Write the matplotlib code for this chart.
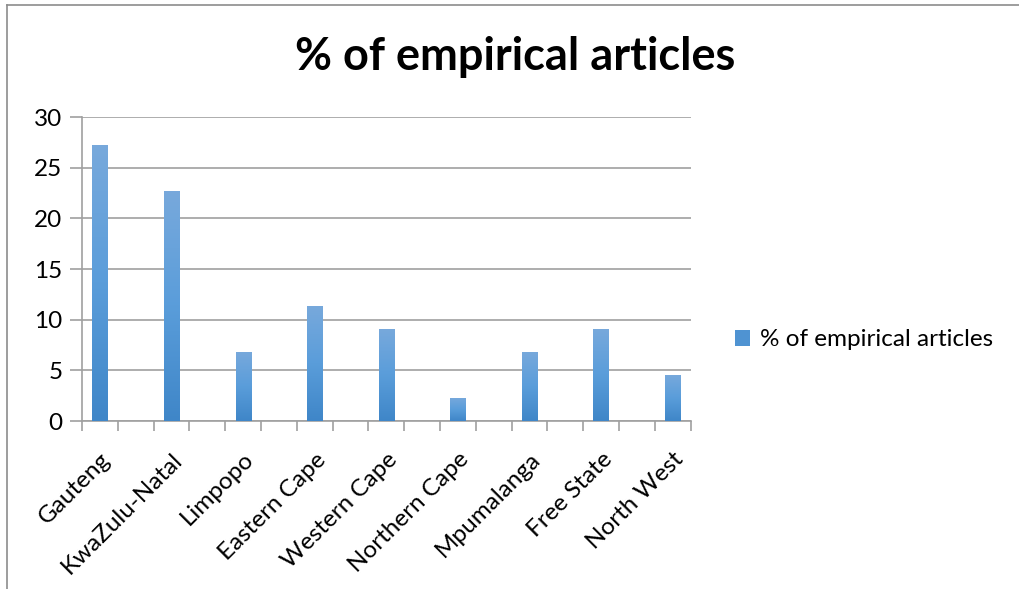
import matplotlib
matplotlib.use('Agg')
import matplotlib.pyplot as plt
import numpy as np
from matplotlib.colors import LinearSegmentedColormap
from matplotlib.patches import Patch
from matplotlib.lines import Line2D

provinces = ["Gauteng", "KwaZulu-Natal", "Limpopo", "Eastern Cape", "Western Cape",
             "Northern Cape", "Mpumalanga", "Free State", "North West"]
percent = [27.27, 22.73, 6.82, 11.36, 9.09, 2.27, 6.82, 9.09, 4.55]
yticks = [0, 5, 10, 15, 20, 25, 30]
series_name = "% of empirical articles"
title = "% of empirical articles"

plt.rcParams['font.family'] = ['Lato', 'DejaVu Sans']
W, H = 1020, 589
fig = plt.figure(figsize=(W / 100, H / 100), dpi=100)
ax = fig.add_axes([82 / W, 1 - 421 / H, (690.5 - 82) / W, (421 - 117) / H])

n_slots = 2 * len(provinces) - 1
pos = np.arange(len(provinces)) * 2
bars = ax.bar(pos, percent, width=0.42, color='none', edgecolor='none', zorder=3)

cmap = LinearSegmentedColormap.from_list('g', ['#3F86C8', '#5A9DDA', '#78A9DC'])
grad = np.linspace(0, 1, 256).reshape(-1, 1)
for b in bars:
    x0 = b.get_x()
    w = b.get_width()
    h = b.get_height()
    im = ax.imshow(grad, cmap=cmap, origin='lower', aspect='auto',
                   extent=[x0, x0 + w, 0, h], zorder=3)
    im.set_clip_path(b)

ax.set_xlim(-0.5, n_slots - 0.5)
ax.set_ylim(0, 30)
ax.set_yticks(yticks)
ax.set_yticklabels([str(v) for v in yticks], fontsize=17.5)
ax.grid(axis='y', color='#A0A0A0', linewidth=1.2, zorder=0)
ax.set_axisbelow(True)

ax.set_xticks(np.arange(-0.5, n_slots, 1.0))
ax.set_xticklabels([])
ax.set_xticks(pos, minor=True)
ax.set_xticklabels(provinces, minor=True, rotation=45, ha='right', va='top',
                   rotation_mode='anchor', fontsize=17.5)
ax.tick_params(axis='x', which='minor', length=0, pad=20)
ax.tick_params(axis='x', which='major', length=7, color='#A0A0A0', width=1.2)
ax.tick_params(axis='y', length=9, color='#A0A0A0', width=1.2, pad=5)

for s in ['top', 'right']:
    ax.spines[s].set_visible(False)
for s in ['left', 'bottom']:
    ax.spines[s].set_color('#A0A0A0')
    ax.spines[s].set_linewidth(1.2)

fig.text(515 / W, 1 - 57 / H, title, ha='center', va='center',
         fontsize=32.5, fontweight='bold', color='black')

handle = Patch(facecolor='#4F93D2', edgecolor='none')
fig.legend(handles=[handle], labels=[series_name], loc='center left',
           bbox_to_anchor=(735 / W, 1 - 340 / H), frameon=False, fontsize=17.5,
           handlelength=0.62, handleheight=0.62, handletextpad=0.4,
           borderpad=0, borderaxespad=0)

fig.add_artist(Line2D([7 / W, 7 / W], [0, 1 - 5 / H], transform=fig.transFigure,
                      color='#8C8C8C', linewidth=1.2))
fig.add_artist(Line2D([7 / W, 1], [1 - 5 / H, 1 - 5 / H], transform=fig.transFigure,
                      color='#8C8C8C', linewidth=1.2))

fig.savefig('out.png', dpi=100)
